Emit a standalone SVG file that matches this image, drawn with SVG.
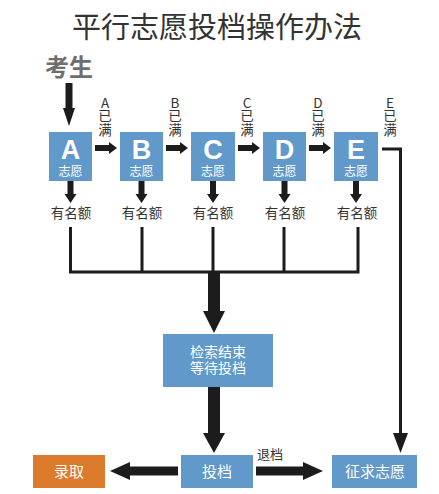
<svg xmlns="http://www.w3.org/2000/svg" width="439" height="494" viewBox="0 0 439 494">
<style>
text{font-family:"Noto Sans CJK SC","Noto Sans",sans-serif;text-anchor:middle}
.box{fill:#6199cb}
.org{fill:#dd7b2c}
.bt{fill:#fff}
.big{font-size:27px;font-weight:bold;font-family:"Liberation Sans","Noto Sans CJK SC",sans-serif}
.sub{font-size:12px;font-weight:normal;font-family:"Liberation Sans","Noto Sans CJK SC",sans-serif}
.wt{fill:#fff;font-size:14px}
.wt2{fill:#fff;font-size:14px;font-family:"Liberation Sans","Noto Sans CJK SC",sans-serif}
.lbl{fill:#333;font-size:13.5px}
.vl{fill:#333;font-size:13.5px;writing-mode:vertical-rl;text-orientation:upright;text-anchor:start}
.ar{fill:#1c1c1c}
.ln{fill:none;stroke:#1c1c1c;stroke-width:3}
</style>
<rect width="439" height="494" fill="#fff"/>
<text x="217" y="38" style="font-size:29px;fill:#333">平行志愿投档操作办法</text>
<text x="69" y="76" style="font-size:24px;font-weight:bold;fill:#6e6e6e">考生</text>

<g id="nodeA"><rect class="box" x="49" y="132" width="43" height="49"/><text class="bt"><tspan class="big" x="70.5" y="158.5">A</tspan><tspan class="sub" x="70.5" y="176">志愿</tspan></text></g>
<g id="nodeB"><rect class="box" x="120" y="132" width="43" height="49"/><text class="bt"><tspan class="big" x="141.5" y="158.5">B</tspan><tspan class="sub" x="141.5" y="176">志愿</tspan></text></g>
<g id="nodeC"><rect class="box" x="191" y="132" width="44" height="49"/><text class="bt"><tspan class="big" x="213" y="158.5">C</tspan><tspan class="sub" x="213" y="176">志愿</tspan></text></g>
<g id="nodeD"><rect class="box" x="263" y="132" width="43" height="49"/><text class="bt"><tspan class="big" x="284.5" y="158.5">D</tspan><tspan class="sub" x="284.5" y="176">志愿</tspan></text></g>
<g id="nodeE"><rect class="box" x="334" y="132" width="44" height="49"/><text class="bt"><tspan class="big" x="356" y="158.5">E</tspan><tspan class="sub" x="356" y="176">志愿</tspan></text></g>

<g id="quota">
<text class="lbl" x="71" y="218">有名额</text>
<text class="lbl" x="142" y="218">有名额</text>
<text class="lbl" x="213" y="218">有名额</text>
<text class="lbl" x="285" y="218">有名额</text>
<text class="lbl" x="357" y="218">有名额</text>
</g>

<g id="fullLabels">
<text class="vl" x="105" y="96">A已满</text>
<text class="vl" x="175" y="96">B已满</text>
<text class="vl" x="247" y="96">C已满</text>
<text class="vl" x="318" y="96">D已满</text>
<text class="vl" x="390" y="96">E已满</text>
</g>

<g id="nodeSearch"><rect class="box" x="163" y="334" width="110" height="53"/><text class="wt2"><tspan x="218" y="356.5">检索结束</tspan><tspan x="218" y="373">等待投档</tspan></text></g>
<g id="nodeTou"><rect class="box" x="181" y="455" width="72" height="33"/><text class="wt" x="217" y="477" style="font-size:15px">投档</text></g>
<g id="nodeLu"><rect class="org" x="33" y="455" width="72" height="33"/><text class="wt" x="69" y="477" style="font-size:15px">录取</text></g>
<g id="nodeZheng"><rect class="box" x="332" y="455" width="85" height="33"/><text class="wt" x="375" y="477" style="font-size:15px">征求志愿</text></g>
<text x="270" y="459" style="font-size:13px;fill:#333">退档</text>

<g id="connectors">
<polygon class="ar" points="65.5,83 72.5,83 72.5,108 75,108 69,126 63,108 65.5,108"/>
<polygon class="ar" points="95,145 109,145 109,142 117,148 109,154 109,151 95,151"/>
<polygon class="ar" points="166,145 180,145 180,142 188,148 180,154 180,151 166,151"/>
<polygon class="ar" points="238,145 252,145 252,142 260,148 252,154 252,151 238,151"/>
<polygon class="ar" points="309,145 323,145 323,142 331,148 323,154 323,151 309,151"/>
<polygon class="ar" points="67.5,181 73.5,181 73.5,194 76.5,194 70.5,203 64.5,194 67.5,194"/>
<polygon class="ar" points="138.5,181 144.5,181 144.5,194 147.5,194 141.5,203 135.5,194 138.5,194"/>
<polygon class="ar" points="210,181 216,181 216,194 219,194 213,203 207,194 210,194"/>
<polygon class="ar" points="281.5,181 287.5,181 287.5,194 290.5,194 284.5,203 278.5,194 281.5,194"/>
<polygon class="ar" points="353,181 359,181 359,194 362,194 356,203 350,194 353,194"/>
<path class="ln" d="M70.5 227V272M142 227V272M213 227V272M284 227V272M358 227V272M69 272H359.5"/>
<polygon class="ar" points="208,273 220,273 220,311 225,311 214,333 203,311 208,311"/>
<polygon class="ar" points="208,387 220,387 220,433 225,433 214,453 203,433 208,433"/>
<polygon class="ar" points="178,466.5 130,466.5 130,462 110,471 130,480 130,475.5 178,475.5"/>
<polygon class="ar" points="256,466.5 303,466.5 303,462 323,471 303,480 303,475.5 256,475.5"/>
<path class="ln" d="M382 149H400.5V435"/>
<polygon class="ar" points="393,433 408,433 400.5,453"/>
</g>
</svg>
